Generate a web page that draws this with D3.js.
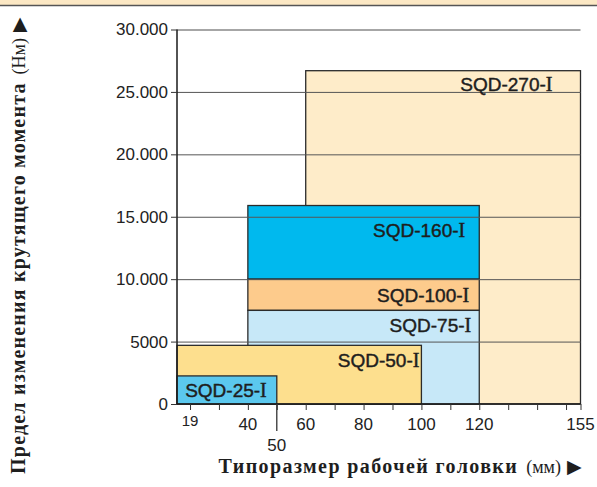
<!DOCTYPE html>
<html>
<head>
<meta charset="utf-8">
<script src="https://cdn.jsdelivr.net/npm/d3@7"></script>
<style>
  body { margin: 0; background: #fff; }
  svg { display: block; }
</style>
</head>
<body>
<svg id="chart" width="597" height="487"></svg>
<script>
// models, working head size range (mm) and torque range (Nm)
const models = ["SQD-270-I", "SQD-160-I", "SQD-100-I", "SQD-75-I", "SQD-50-I", "SQD-25-I"]
const sizeFrom = [60, 40, 40, 40, 15.5, 15.5]
const sizeTo = [155, 120, 120, 120, 100, 50]
const torqueFrom = [0, 10000, 7500, 0, 0, 0]
const torqueTo = [26700, 15900, 10000, 7500, 4700, 2250]

const yTicks = [0, 5000, 10000, 15000, 20000, 25000, 30000]
const yTickLabels = ["0", "5000", "10.000", "15.000", "20.000", "25.000", "30.000"]
const xMinorTicks = [20, 30, 40, 50, 60, 70, 80, 90, 100, 110, 120, 130, 140, 150, 155]
const xTickValues = [20, 40, 60, 80, 100, 120, 155]
const xTickLabels = ["19", "40", "60", "80", "100", "120", "155"]

// styles
const fills = ["#feecc9", "#00b9ee", "#fdcb8c", "#c7e8f8", "#fddf8e", "#5bc8ee"]
const labelPadRight = [28, 14, 10, 8, 2, 10]
const labelDown = [13, 25, 15.5, 15, 15, 14]

let svg = d3.select("#chart")

// top strip
svg.append("rect").attr("x", 0).attr("y", 0).attr("width", 597).attr("height", 5).attr("fill", "#fce8c4")
svg.append("line").attr("x1", 0).attr("x2", 597).attr("y1", 5.5).attr("y2", 5.5)
    .attr("stroke", "#555").attr("stroke-width", 1.5)

let xScale = d3.scaleLinear().domain([15.5, 155]).range([177, 580.5])
let yScale = d3.scaleLinear().domain([0, 30000]).range([404, 29.5])

//rectangles
let gRect = svg.append("g")
models.forEach(function(m, i) {
    gRect.append("rect")
        .attr("x", xScale(sizeFrom[i]))
        .attr("y", yScale(torqueTo[i]))
        .attr("width", xScale(sizeTo[i]) - xScale(sizeFrom[i]))
        .attr("height", yScale(torqueFrom[i]) - yScale(torqueTo[i]))
        .attr("fill", fills[i])
        .attr("stroke", "#2b2b2b")
        .attr("stroke-width", 1.3)
})

//gridlines
let gGrid = svg.append("g").attr("transform", "translate(" + xScale(15.5) + ",0)")
let yAxis = d3.axisLeft(yScale)
    .tickValues(yTicks.slice(1))
    .tickSize(-(xScale(155) - xScale(15.5)))
    .tickFormat("")
yAxis(gGrid)
gGrid.select(".domain").remove()
gGrid.selectAll(".tick line").attr("stroke", "#555").attr("stroke-width", 1)
gGrid.selectAll(".tick").filter(d => d === 30000).select("line").attr("stroke", "#888").attr("stroke-width", 1.3)

//y axis with labels
let gy = svg.append("g").attr("transform", "translate(" + xScale(15.5) + ",0)")
let yAxisL = d3.axisLeft(yScale)
    .tickValues(yTicks)
    .tickSize(6)
    .tickPadding(3)
    .tickFormat((d, i) => yTickLabels[i])
yAxisL(gy)
gy.select(".domain").attr("stroke", "#1a1a1a").attr("stroke-width", 1.5).attr("d", "M0," + yScale(0) + "V" + yScale(30000))
gy.selectAll(".tick line").attr("stroke", "#333")
gy.selectAll(".tick text")
    .style("font-family", "'Liberation Sans', Arial, sans-serif")
    .style("font-size", "17px")
    .attr("fill", "#222")

//x axis
let gx = svg.append("g").attr("transform", "translate(0," + yScale(0) + ")")
let xAxis = d3.axisBottom(xScale)
    .tickValues(xMinorTicks)
    .tickSize(6)
    .tickFormat("")
xAxis(gx)
gx.select(".domain").attr("stroke", "#1a1a1a").attr("stroke-width", 1.5).attr("d", "M" + xScale(15.5) + ",0H" + xScale(155))
gx.selectAll(".tick line").attr("stroke", "#333")
gx.append("line").attr("x1", xScale(50)).attr("x2", xScale(50)).attr("y1", 0).attr("y2", 27)
    .attr("stroke", "#333").attr("stroke-width", 1.3)

xTickValues.forEach(function(v, i) {
    gx.append("text")
        .attr("x", xScale(v))
        .attr("y", i === 0 ? 22 : 26)
        .attr("text-anchor", "middle")
        .style("font-family", "'Liberation Sans', Arial, sans-serif")
        .style("font-size", i === 0 ? "15px" : "17px")
        .attr("fill", "#222")
        .text(xTickLabels[i])
})
gx.append("text")
    .attr("x", xScale(50))
    .attr("y", 47)
    .attr("text-anchor", "middle")
    .style("font-family", "'Liberation Sans', Arial, sans-serif")
    .style("font-size", "17px")
    .attr("fill", "#222")
    .text("50")

//model labels
models.forEach(function(m, i) {
    let t = svg.append("text")
        .attr("x", xScale(sizeTo[i]) - labelPadRight[i])
        .attr("y", yScale(torqueTo[i]) + labelDown[i])
        .attr("dy", "0.36em")
        .attr("text-anchor", "end")
        .style("font-family", "'Liberation Sans', Arial, sans-serif")
        .style("font-size", "19px")
        .attr("fill", "#1e1e1e")
        .attr("stroke", "#1e1e1e")
        .attr("stroke-width", 0.45)
    t.append("tspan").text(m.slice(0, -1))
    t.append("tspan").style("font-family", "'Liberation Serif', 'Times New Roman', serif").style("font-size", "20px").text("I")
})

//axis titles
let xTitle = svg.append("text")
    .attr("x", 582)
    .attr("y", 473)
    .attr("text-anchor", "end")
    .style("font-family", "'Liberation Serif', 'Times New Roman', serif")
    .style("font-size", "20px")
    .attr("fill", "#1e1e1e")
xTitle.append("tspan").style("font-weight", "bold").style("letter-spacing", "1.4px").text("Типоразмер рабочей головки")
xTitle.append("tspan").attr("dx", 8).style("font-size", "18px").text("(мм)")
xTitle.append("tspan").attr("dx", 6).style("font-size", "19px").text("▶")

let yTitle = svg.append("text")
    .attr("transform", "translate(25,17) rotate(-90)")
    .attr("text-anchor", "end")
    .style("font-family", "'Liberation Serif', 'Times New Roman', serif")
    .style("font-size", "20px")
    .attr("fill", "#1e1e1e")
yTitle.append("tspan").style("font-weight", "bold").style("letter-spacing", "1.2px").text("Предел изменения крутящего момента")
yTitle.append("tspan").attr("dx", 8).style("font-size", "18px").text("(Нм)")
yTitle.append("tspan").attr("dx", 6).style("font-size", "19px").text("▶")
</script>
</body>
</html>
